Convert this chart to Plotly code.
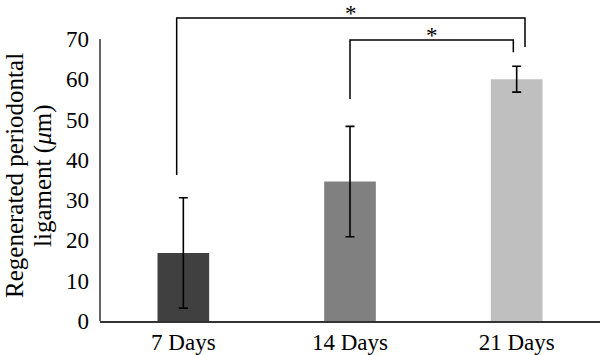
import plotly.graph_objects as go

categories = ["7 Days", "14 Days", "21 Days"]
means = [16.9, 34.6, 60.0]
errors = [13.7, 13.7, 3.2]
colors = ["#404040", "#808080", "#bfbfbf"]
y_ticks = [0, 10, 20, 30, 40, 50, 60, 70]
y_title_lines = ["Regenerated periodontal", "ligament (<i>μ</i>m)"]

# significance brackets: (left index, right index, top level, left drop, right drop, label)
brackets = [
    (0, 2, 75.2, 36.2, 68.0, "*"),
    (1, 2, 69.7, 55.1, 66.7, "*"),
]

FONT = "Liberation Serif"

fig = go.Figure()
fig.add_trace(go.Bar(
    x=list(range(len(categories))), y=means,
    marker=dict(color=colors, line=dict(width=0)),
    width=0.31,
    error_y=dict(type="data", array=errors, color="black", thickness=1.6, width=4.5),
))

shapes = [dict(type="line", xref="paper", yref="y", x0=0, x1=0, y0=0, y1=70,
               line=dict(color="#333", width=1.5))]
annotations = []
for (a, b, top, ld, rd, lab) in brackets:
    xa = a - 0.04 if a == 0 else a
    xb = b + 0.05 if a == 0 else b - 0.02
    shapes.append(dict(type="path", xref="x", yref="y",
                       path=f"M {xa},{ld} L {xa},{top} L {xb},{top} L {xb},{rd}",
                       line=dict(color="black", width=1.5)))
    annotations.append(dict(x=(xa + xb) / 2, y=top, xref="x", yref="y", text=lab,
                            showarrow=False, yanchor="top", yshift=18, borderpad=0,
                            font=dict(family=FONT, size=23, color="black")))

for i, line in enumerate(y_title_lines):
    annotations.append(dict(x=0, xref="paper", y=36, yref="y", xshift=-85 + 28 * i,
                            text=line, textangle=-90, showarrow=False,
                            xanchor="center", yanchor="middle",
                            font=dict(family=FONT, size=25, color="black")))

fig.update_layout(
    width=600, height=355,
    margin=dict(l=100, r=0, t=0, b=34),
    paper_bgcolor="white", plot_bgcolor="white",
    showlegend=False,
    font=dict(family=FONT, size=23, color="black"),
    shapes=shapes, annotations=annotations,
    xaxis=dict(range=[-0.5, 2.5], tickvals=list(range(len(categories))), ticktext=categories,
               showline=True, linecolor="#333", linewidth=1.5, ticks="", showgrid=False,
               zeroline=False, tickfont=dict(family=FONT, size=23, color="black")),
    yaxis=dict(range=[0, 79.65], tickvals=y_ticks, showline=False, ticks="",
               showgrid=False, zeroline=False, ticklabelstandoff=10,
               tickfont=dict(family=FONT, size=23, color="black")),
)

fig.write_html("out.html", config={"displayModeBar": False},
               post_script="document.body.style.margin='0';document.body.style.overflow='hidden';")
